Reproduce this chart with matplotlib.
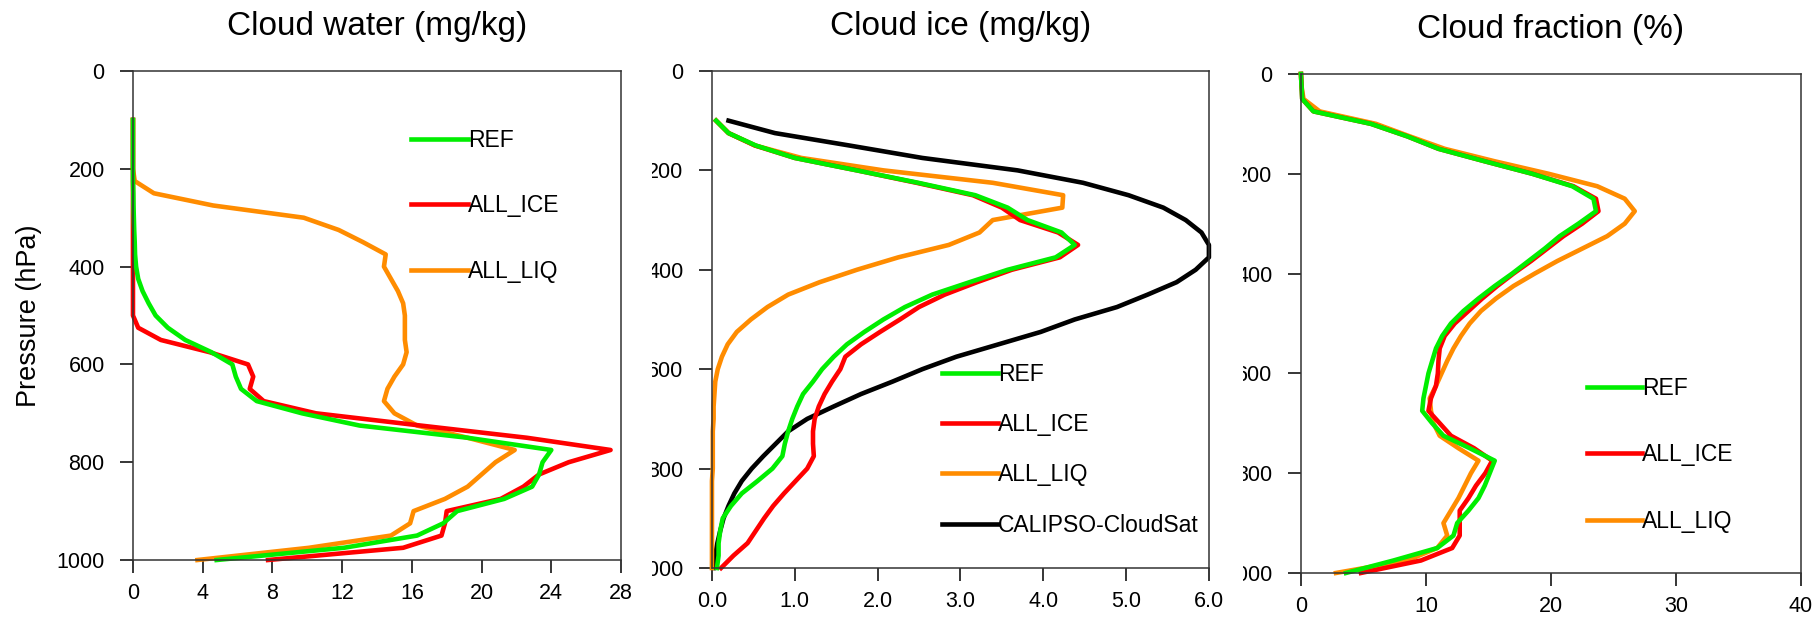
import matplotlib
matplotlib.use('Agg')
import matplotlib.pyplot as plt
from matplotlib.lines import Line2D
from matplotlib.transforms import Bbox, TransformedBbox

plt.rcParams['font.family'] = ['Liberation Sans', 'DejaVu Sans']

# pressure levels (hPa)
plev = [100, 125, 150, 175, 200, 225, 250, 275, 300, 325,
        350, 375, 400, 425, 450, 475, 500, 525, 550, 575,
        600, 625, 650, 675, 700, 725, 750, 775, 800, 825,
        850, 875, 900, 925, 950, 975, 1000]
plev_cf = [0, 25, 50, 75, 100, 125, 150, 175, 200, 225,
           250, 275, 300, 325, 350, 375, 400, 425, 450, 475,
           500, 525, 550, 575, 600, 625, 650, 675, 700, 725,
           750, 775, 800, 825, 850, 875, 900, 925, 950, 975, 1000]

# cloud water (mg/kg)
cw_ref = [0, 0, 0, 0, 0, 0, 0.02, 0.03, 0.05, 0.07,
          0.1, 0.12, 0.18, 0.3, 0.55, 0.9, 1.3, 2.0, 3.0, 4.5,
          5.7, 5.9, 6.2, 7.1, 9.7, 13.0, 19.2, 24.0, 23.5, 23.3,
          22.9, 21.3, 18.6, 17.8, 16.3, 12.1, 4.8]
cw_ice = [0, 0, 0, 0, 0, 0, 0, 0, 0, 0,
          0, 0, 0, 0, 0, 0, 0, 0.3, 1.6, 4.4,
          6.6, 6.9, 6.7, 7.5, 10.5, 16.5, 22.6, 27.4, 25.0, 23.3,
          22.4, 21.1, 18.0, 17.9, 17.7, 15.5, 7.75]
cw_liq = [0, 0, 0, 0, 0, 0.1, 1.2, 4.6, 9.8, 11.8,
          13.2, 14.5, 14.4, 14.8, 15.2, 15.5, 15.6, 15.6, 15.6, 15.7,
          15.5, 15.0, 14.6, 14.4, 15.0, 16.3, 19.2, 21.9, 20.8, 20.0,
          19.2, 17.9, 16.1, 15.9, 14.8, 10.1, 3.7]

# cloud ice (mg/kg)
ci_ref = [0.05, 0.20, 0.53, 1.0, 1.75, 2.49, 3.18, 3.57, 3.81, 4.22,
          4.38, 4.15, 3.57, 3.11, 2.66, 2.33, 2.07, 1.84, 1.63, 1.47,
          1.33, 1.22, 1.10, 1.03, 0.97, 0.92, 0.88, 0.85, 0.73, 0.55,
          0.36, 0.23, 0.13, 0.10, 0.08, 0.08, 0.06]
ci_ice = [0.05, 0.2, 0.52, 1.0, 1.75, 2.47, 3.15, 3.5, 3.72, 4.18,
          4.42, 4.2, 3.62, 3.2, 2.81, 2.5, 2.27, 2.03, 1.8, 1.61,
          1.55, 1.45, 1.36, 1.29, 1.24, 1.22, 1.22, 1.23, 1.15, 1.01,
          0.87, 0.74, 0.63, 0.53, 0.43, 0.26, 0.11]
ci_liq = [0.05, 0.2, 0.52, 1.08, 2.07, 3.39, 4.24, 4.23, 3.39, 3.23,
          2.86, 2.25, 1.75, 1.3, 0.92, 0.67, 0.47, 0.3, 0.19, 0.12,
          0.07, 0.04, 0.03, 0.02, 0.02, 0.01, 0.01, 0.01, 0.01, 0.0,
          0.0, 0.0, 0.0, 0.0, 0.0, 0.0, 0.0]
ci_obs = [0.2, 0.76, 1.66, 2.54, 3.69, 4.48, 5.03, 5.45, 5.72, 5.91,
          6.0, 6.0, 5.84, 5.61, 5.26, 4.89, 4.38, 3.97, 3.46, 2.95,
          2.54, 2.18, 1.80, 1.47, 1.15, 0.92, 0.77, 0.62, 0.48, 0.36,
          0.27, 0.20, 0.14, 0.10, 0.065, 0.04, 0.02]

# cloud fraction (%)
cf_ref = [0, 0.05, 0.1, 1.0, 5.6, 8.5, 11.0, 14.7, 18.5, 21.7,
          23.4, 23.6, 22.2, 20.7, 19.5, 18.2, 16.9, 15.5, 14.2, 13.0,
          12.0, 11.3, 10.8, 10.5, 10.2, 10.0, 9.8, 9.7, 10.5, 11.4,
          13.5, 15.5, 15.1, 14.7, 14.2, 13.4, 12.5, 12.2, 10.9, 7.4, 3.6]
cf_ice = [0, 0.05, 0.1, 1.0, 5.6, 8.5, 11.0, 14.7, 18.5, 21.8,
          23.6, 23.8, 22.5, 21.0, 19.7, 18.4, 17.0, 15.7, 14.5, 13.4,
          12.3, 11.5, 11.1, 11.0, 10.95, 10.8, 10.4, 10.2, 11.1, 12.0,
          13.85, 15.3, 14.75, 14.0, 13.4, 12.7, 12.7, 12.7, 12.1, 9.6, 4.8]
cf_liq = [0, 0.05, 0.2, 1.5, 6.0, 8.7, 11.5, 15.5, 19.8, 23.7,
          25.9, 26.7, 25.9, 24.5, 22.5, 20.5, 18.7, 17.0, 15.6, 14.4,
          13.5, 12.8, 12.2, 11.7, 11.25, 10.8, 10.3, 10.4, 10.6, 11.1,
          12.6, 14.2, 13.6, 13.1, 12.6, 12.0, 11.4, 11.7, 10.9, 8.5, 2.8]

GREEN = '#00ee00'
RED = '#ff0000'
ORANGE = '#ff8c00'
BLACK = '#000000'
LW = 3.3
SPINE = '#333333'


def style_axis(ax, title, xticks, xlabels, xmax):
    ax.set_xlim(0, xmax)
    ax.set_ylim(1000, 0)
    ax.set_xticks(xticks)
    ax.set_xticklabels(xlabels)
    ax.set_yticks([0, 200, 400, 600, 800, 1000])
    ax.set_title(title, fontsize=24, pad=26)
    ax.tick_params(direction='out', length=9.4, width=1.1, labelsize=15.5,
                   top=False, right=False, colors='black')
    ax.tick_params(axis='y', pad=11)
    ax.tick_params(axis='x', pad=7)
    for s in ax.spines.values():
        s.set_linewidth(1.1)
        s.set_color(SPINE)


def add_legend(ax, names, colors, anchor, spacing, hlen):
    handles = [Line2D([], [], color=c, lw=LW) for c in colors]
    ax.legend(handles, names, loc='upper left', bbox_to_anchor=anchor,
              frameon=False, handlelength=hlen, handletextpad=0,
              labelspacing=spacing, borderpad=0, borderaxespad=0,
              fontsize=16.5)


def clip_ylabels(fig, ax, x0):
    # the panels were pasted side by side, so the left labels are cut off
    box = TransformedBbox(Bbox([[x0, 0], [1, 1]]), fig.transFigure)
    for lbl in ax.get_yticklabels():
        lbl.set_clip_box(box)
        lbl.set_clip_on(True)


fig = plt.figure(figsize=(18.19, 6.23), dpi=100)
ax1 = fig.add_axes([0.0731, 0.1011, 0.2683, 0.7849])
ax2 = fig.add_axes([0.3914, 0.0883, 0.2732, 0.7978])
ax3 = fig.add_axes([0.7152, 0.0803, 0.2749, 0.8010])

# cloud water
ax1.plot(cw_liq, plev, color=ORANGE, lw=LW, clip_on=False)
ax1.plot(cw_ice, plev, color=RED, lw=LW, clip_on=False)
ax1.plot(cw_ref, plev, color=GREEN, lw=LW, clip_on=False)
style_axis(ax1, 'Cloud water (mg/kg)', [0, 4, 8, 12, 16, 20, 24, 28],
           ['0', '4', '8', '12', '16', '20', '24', '28'], 28)
ax1.set_ylabel('Pressure (hPa)', fontsize=19.5, labelpad=10.5)
add_legend(ax1, ['REF', 'ALL_ICE', 'ALL_LIQ'], [GREEN, RED, ORANGE],
           (0.570, 0.882), 1.86, 2.5)

# cloud ice
ax2.plot(ci_obs, plev, color=BLACK, lw=LW, clip_on=False)
ax2.plot(ci_liq, plev, color=ORANGE, lw=LW, clip_on=False)
ax2.plot(ci_ice, plev, color=RED, lw=LW, clip_on=False)
ax2.plot(ci_ref, plev, color=GREEN, lw=LW, clip_on=False)
style_axis(ax2, 'Cloud ice (mg/kg)', [0, 1, 2, 3, 4, 5, 6],
           ['0.0', '1.0', '2.0', '3.0', '4.0', '5.0', '6.0'], 6)
add_legend(ax2, ['REF', 'ALL_ICE', 'ALL_LIQ', 'CALIPSO-CloudSat'],
           [GREEN, RED, ORANGE, BLACK], (0.463, 0.413), 1.19, 2.45)
clip_ylabels(fig, ax2, 652 / 1819)

# cloud fraction
ax3.plot(cf_liq, plev_cf, color=ORANGE, lw=LW, clip_on=False)
ax3.plot(cf_ice, plev_cf, color=RED, lw=LW, clip_on=False)
ax3.plot(cf_ref, plev_cf, color=GREEN, lw=LW, clip_on=False)
style_axis(ax3, 'Cloud fraction (%)', [0, 10, 20, 30, 40],
           ['0', '10', '20', '30', '40'], 40)
add_legend(ax3, ['REF', 'ALL_ICE', 'ALL_LIQ'], [GREEN, RED, ORANGE],
           (0.572, 0.393), 1.90, 2.4)
clip_ylabels(fig, ax3, 1243 / 1819)

fig.savefig('out.png', dpi=100)
